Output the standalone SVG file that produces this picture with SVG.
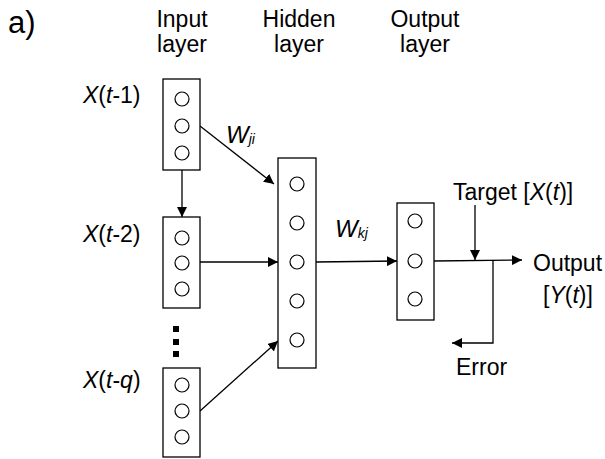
<svg xmlns="http://www.w3.org/2000/svg" width="605" height="459" viewBox="0 0 605 459">
<defs>
<marker id="ah" viewBox="0 0 10 10" refX="10" refY="5" markerWidth="10" markerHeight="10" markerUnits="userSpaceOnUse" orient="auto">
<path d="M0,0 L10,5 L0,10 z" fill="#000"/>
</marker>
<style>
text{font-family:"Liberation Sans",Arial,sans-serif;font-size:23px;fill:#000}
.it{font-style:italic}
.sub{font-size:14px;font-style:italic}
.box{fill:#fff;stroke:#000;stroke-width:1.3}
.n{fill:#fff;stroke:#000;stroke-width:1.2}
.c{fill:none;stroke:#000;stroke-width:1.3}
.ca{fill:none;stroke:#000;stroke-width:1.3;marker-end:url(#ah)}
</style>
</defs>
<rect width="605" height="459" fill="#fff"/>
<text x="8" y="33" style="font-size:31px">a)</text>
<g id="headers" text-anchor="middle">
<text x="182" y="27">Input</text><text x="182" y="52">layer</text>
<text x="299" y="27">Hidden</text><text x="299" y="52">layer</text>
<text x="425" y="27">Output</text><text x="425" y="52">layer</text>
</g>
<g id="connectors">
<line class="ca" x1="182" y1="170" x2="182" y2="217"/>
<line class="ca" x1="200" y1="126" x2="274" y2="184"/>
<line class="ca" x1="200" y1="262" x2="278" y2="262"/>
<line class="ca" x1="200" y1="411" x2="278" y2="341"/>
<line class="ca" x1="316" y1="262" x2="397" y2="261"/>
<line class="ca" x1="434" y1="261" x2="522" y2="260"/>
<line class="ca" x1="475" y1="205" x2="475" y2="260"/>
<polyline class="ca" points="493,261 493,343 452,343"/>
</g>
<g id="input1">
<rect class="box" x="163" y="79" width="37" height="91"/>
<circle class="n" cx="182" cy="99" r="7"/><circle class="n" cx="182" cy="126" r="7"/><circle class="n" cx="182" cy="153" r="7"/>
<text x="83" y="103"><tspan class="it">X</tspan>(<tspan class="it">t</tspan>-1)</text>
</g>
<g id="input2">
<rect class="box" x="163" y="217" width="37" height="91"/>
<circle class="n" cx="182" cy="238" r="7"/><circle class="n" cx="182" cy="263" r="7"/><circle class="n" cx="182" cy="289" r="7"/>
<text x="83" y="242"><tspan class="it">X</tspan>(<tspan class="it">t</tspan>-2)</text>
</g>
<g id="dots" fill="#000">
<rect x="173" y="326" width="6" height="6"/><rect x="173" y="339" width="6" height="6"/><rect x="173" y="351" width="6" height="6"/>
</g>
<g id="input3">
<rect class="box" x="163" y="368" width="37" height="89"/>
<circle class="n" cx="182" cy="385" r="7"/><circle class="n" cx="182" cy="411" r="7"/><circle class="n" cx="182" cy="437" r="7"/>
<text x="83" y="388"><tspan class="it">X</tspan>(<tspan class="it">t</tspan>-<tspan class="it">q</tspan>)</text>
</g>
<g id="hidden">
<rect class="box" x="278" y="158" width="38" height="210"/>
<circle class="n" cx="297" cy="184" r="7"/><circle class="n" cx="297" cy="223" r="7"/><circle class="n" cx="297" cy="262" r="7"/><circle class="n" cx="297" cy="301" r="7"/><circle class="n" cx="297" cy="340" r="7"/>
</g>
<g id="output">
<rect class="box" x="397" y="203" width="37" height="117"/>
<circle class="n" cx="415" cy="221" r="7"/><circle class="n" cx="415" cy="261" r="7"/><circle class="n" cx="415" cy="299" r="7"/>
</g>
<g id="labels">
<text x="226" y="143" class="it" style="font-size:24px">W<tspan class="sub" dy="1">ji</tspan></text>
<text x="335" y="237" class="it" style="font-size:24px">W<tspan class="sub" dy="1">kj</tspan></text>
<text x="453" y="200">Target [<tspan class="it">X</tspan>(<tspan class="it">t</tspan>)]</text>
<text x="533" y="271">Output</text>
<text x="543" y="303">[<tspan class="it">Y</tspan>(<tspan class="it">t</tspan>)]</text>
<text x="456" y="375">Error</text>
</g>
</svg>
